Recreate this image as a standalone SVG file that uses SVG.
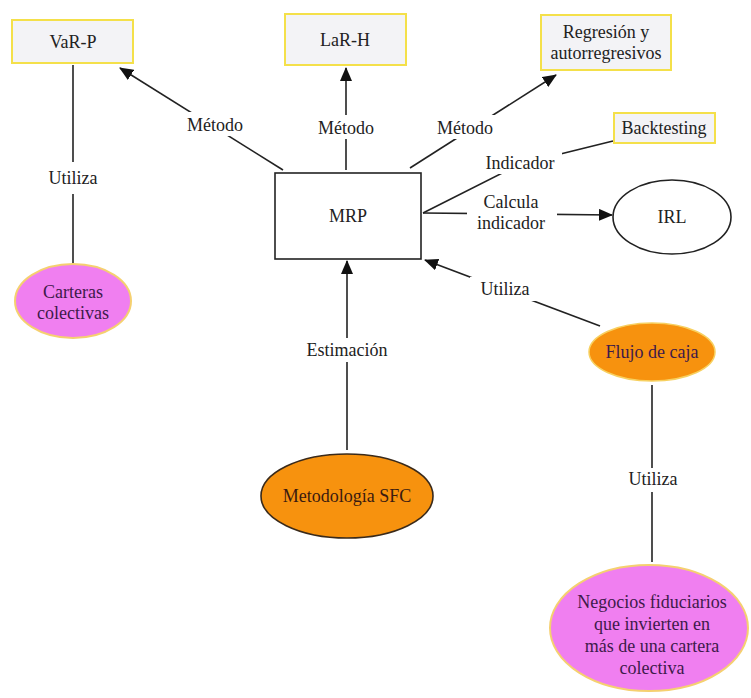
<svg xmlns="http://www.w3.org/2000/svg" width="751" height="698" viewBox="0 0 751 698">
<defs>
<marker id="ah" viewBox="0 0 14 12" refX="13" refY="6" markerWidth="14" markerHeight="12" markerUnits="userSpaceOnUse" orient="auto">
<path d="M0,0 L14,6 L0,12 Z" fill="#111"/>
</marker>
</defs>
<style>
text{font-size:18px;fill:#222;text-anchor:middle}
.box{fill:#f3f3f6;stroke:#f4e04a;stroke-width:2}
.pink{fill:#f07ff0;stroke:#f5d070;stroke-width:2}
.orange{fill:#f7920e;stroke:#f7d060;stroke-width:1.5}
.ln{stroke:#222;stroke-width:1.6;fill:none}
.ar{stroke:#222;stroke-width:1.6;fill:none;marker-end:url(#ah)}
.lbl{fill:#fff;stroke:none}
.ptxt{fill:#3e1a4a}
</style>
<rect width="751" height="698" fill="#fff"/>
<g font-family="Liberation Serif, Times New Roman, DejaVu Serif, serif">
<g id="connectors">
<line class="ln" x1="73" y1="65" x2="73" y2="162"/>
<line class="ln" x1="73" y1="194" x2="73" y2="265"/>
<line class="ar" x1="283" y1="170" x2="120" y2="68"/>
<line class="ar" x1="346" y1="170" x2="346" y2="68"/>
<line class="ar" x1="410" y1="168" x2="556" y2="75"/>
<polyline class="ln" points="423,213 520,164 613,141"/>
<line class="ar" x1="423" y1="213" x2="612" y2="215"/>
<line class="ar" x1="600" y1="326" x2="425" y2="260"/>
<line class="ar" x1="347" y1="450" x2="347" y2="261"/>
<line class="ln" x1="652" y1="385" x2="652" y2="562"/>
<rect class="lbl" x="180" y="112" width="70" height="24"/>
<rect class="lbl" x="311" y="115" width="70" height="24"/>
<rect class="lbl" x="428" y="115" width="74" height="24"/>
<rect class="lbl" x="478" y="152" width="84" height="22"/>
<rect class="lbl" x="467" y="195" width="90" height="39"/>
<rect class="lbl" x="470" y="277" width="70" height="24"/>
<rect class="lbl" x="296" y="338" width="102" height="24"/>
<rect class="lbl" x="38" y="166" width="70" height="24"/>
<rect class="lbl" x="618" y="468" width="70" height="24"/>
<text x="215" y="131">Método</text>
<text x="346" y="134">Método</text>
<text x="465" y="134">Método</text>
<text x="520" y="169">Indicador</text>
<text x="511" y="208">Calcula</text>
<text x="511" y="229">indicador</text>
<text x="505" y="295">Utiliza</text>
<text x="347" y="356">Estimación</text>
<text x="73" y="184">Utiliza</text>
<text x="653" y="485">Utiliza</text>
</g>
<g id="varp">
<rect class="box" x="12" y="20" width="121" height="43"/>
<text x="73" y="48">VaR-P</text>
</g>
<g id="larh">
<rect class="box" x="285" y="14" width="121" height="51"/>
<text x="345" y="46">LaR-H</text>
</g>
<g id="regresion">
<rect class="box" x="541" y="15" width="130" height="55"/>
<text x="606" y="38">Regresión y</text>
<text x="606" y="59">autorregresivos</text>
</g>
<g id="backtesting">
<rect class="box" x="614" y="113" width="101" height="30"/>
<text x="664" y="134">Backtesting</text>
</g>
<g id="mrp">
<rect x="275" y="173" width="146" height="86" fill="#fff" stroke="#222" stroke-width="1.6"/>
<text x="348" y="222">MRP</text>
</g>
<g id="irl">
<ellipse cx="672" cy="217" rx="59" ry="37" fill="#fff" stroke="#222" stroke-width="1.6"/>
<text x="672" y="223">IRL</text>
</g>
<g id="carteras">
<ellipse class="pink" cx="73" cy="301" rx="58" ry="37"/>
<text class="ptxt" x="73" y="298">Carteras</text>
<text class="ptxt" x="73" y="319">colectivas</text>
</g>
<g id="flujo">
<ellipse class="orange" cx="652" cy="352" rx="63" ry="29"/>
<text class="ptxt" x="652" y="358">Flujo de caja</text>
</g>
<g id="sfc">
<ellipse cx="347" cy="496" rx="86" ry="42" fill="#f7920e" stroke="#3a2a1a" stroke-width="1.6"/>
<text x="347" y="502" style="fill:#3a1a10">Metodología SFC</text>
</g>
<g id="negocios">
<ellipse class="pink" cx="649" cy="628" rx="99" ry="63"/>
<text class="ptxt" x="652" y="608">Negocios fiduciarios</text>
<text class="ptxt" x="652" y="630">que invierten en</text>
<text class="ptxt" x="652" y="652">más de una cartera</text>
<text class="ptxt" x="652" y="674">colectiva</text>
</g>
</g>
</svg>
